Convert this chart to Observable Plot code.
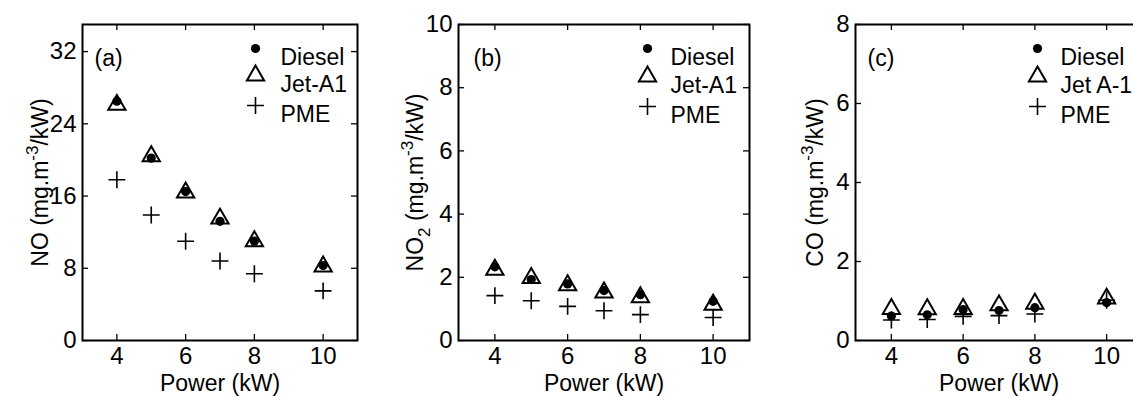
<!DOCTYPE html>
<html><head><meta charset="utf-8">
<script src="https://cdn.jsdelivr.net/npm/d3@7"></script>
<script src="https://cdn.jsdelivr.net/npm/@observablehq/plot@0.6"></script>
<style>
body{margin:0;background:#fff;}
#wrap{position:relative;width:1133px;height:396px;overflow:hidden;font-family:Arial,"Liberation Sans",sans-serif;}
#wrap > div{position:absolute;top:0;}
#wrap svg{max-width:none !important;display:block;}
</style></head><body><div id="wrap"></div>
<script>
// ---- data ----
const power = [4, 5, 6, 7, 8, 10];
const xTicks = [4, 6, 8, 10];

const noDiesel = [26.5, 20.2, 16.5, 13.2, 11.0, 8.3];
const noJet    = [26.1, 20.4, 16.4, 13.5, 11.0, 8.2];
const noPME    = [17.8, 13.9, 11.0, 8.8, 7.4, 5.5];

const no2Diesel = [2.33, 1.93, 1.79, 1.58, 1.45, 1.24];
const no2Jet    = [2.24, 1.98, 1.75, 1.52, 1.37, 1.13];
const no2PME    = [1.42, 1.26, 1.08, 0.94, 0.82, 0.73];

const coDiesel = [0.62, 0.65, 0.78, 0.76, 0.83, 0.96];
const coJet    = [0.80, 0.79, 0.80, 0.89, 0.93, 1.06];
const coPME    = [0.52, 0.53, 0.61, 0.63, 0.67, 1.02];

const noTicks = [0, 8, 16, 24, 32];
const no2Ticks = [0, 2, 4, 6, 8, 10];
const coTicks = [0, 2, 4, 6, 8];

const legendAB = ["Diesel", "Jet-A1", "PME"];
const legendC = ["Diesel", "Jet A-1", "PME"];
const xLabel = "Power (kW)";
// y label parts: [text, kind]
const yLabelNO  = [["NO (mg.m", ""], ["-3", "sup"], ["/kW)", ""]];
const yLabelNO2 = [["NO", ""], ["2", "sub"], [" (mg.m", ""], ["-3", "sup"], ["/kW)", ""]];
const yLabelCO  = [["CO (mg.m", ""], ["-3", "sup"], ["/kW)", ""]];

// ---- drawing ----
const FONT = "Arial, 'Liberation Sans', sans-serif";
const H = 396, MT = 24, MB = 56;
const FS_TICK = 24, FS = 23;

function panel(cfg) {
  const fw = cfg.width - cfg.ml - cfg.mr, fh = H - MT - MB;
  const rows = s => power.map((p, i) => ({power: p, value: s[i]}));
  const sym = [
    {symbol: "circle", r: 4.6, fill: "black", stroke: "none"},
    {symbol: "triangle", r: 6.4, fill: "none", stroke: "black", strokeWidth: 2},
    {symbol: "plus", r: 5.5, fill: "none", stroke: "black", strokeWidth: 1.6}
  ];
  const legMarks = [];
  cfg.legend.forEach((name, i) => {
    legMarks.push(Plot.dot([name], {frameAnchor: "top-left", dx: cfg.legX, dy: cfg.legY[i], ...sym[i]}));
    legMarks.push(Plot.text([name], {frameAnchor: "top-left", dx: cfg.legTX, dy: cfg.legY[i], textAnchor: "start", fontSize: FS}));
  });
  const yLabelText = cfg.ylabel.map(d => d[0]).join("");
  const plot = Plot.plot({
    width: cfg.width, height: H,
    marginTop: MT, marginBottom: MB, marginLeft: cfg.ml, marginRight: cfg.mr,
    style: {fontFamily: FONT, fontSize: FS + "px", color: "#000", background: "transparent", overflow: "visible", maxWidth: "none"},
    x: {domain: [3, 11]},
    y: {domain: cfg.yDomain},
    marks: [
      Plot.axisX({ticks: xTicks, tickSize: 0, tickPadding: 6, fontSize: FS_TICK, label: null}),
      Plot.axisY({ticks: cfg.yTicks, tickSize: 0, tickPadding: 6, fontSize: FS_TICK, label: null}),
      Plot.ruleY(cfg.yTicks, {insetRight: fw - 6, strokeWidth: 1.3}),
      Plot.ruleY(cfg.yTicks, {insetLeft: fw - 6, strokeWidth: 1.3}),
      Plot.ruleX(xTicks, {insetTop: fh - 6, strokeWidth: 1.3}),
      Plot.ruleX(xTicks, {insetBottom: fh - 6, strokeWidth: 1.3}),
      Plot.frame({stroke: "black", strokeWidth: 2}),
      Plot.dot(rows(cfg.diesel), {x: "power", y: "value", ...sym[0]}),
      Plot.dot(rows(cfg.jet), {x: "power", y: "value", ...sym[1]}),
      Plot.dot(rows(cfg.pme), {x: "power", y: "value", ...sym[2]}),
      ...legMarks,
      Plot.text([cfg.tag], {frameAnchor: "top-left", dx: cfg.tagX, dy: 25, textAnchor: "start", fontSize: FS}),
      Plot.text([xLabel], {frameAnchor: "bottom", dy: 34, lineAnchor: "top", fontSize: FS}),
      Plot.text([yLabelText], {frameAnchor: "left", dx: -cfg.ylx, dy: 0, rotate: -90, fontSize: FS})
    ]
  });
  const div = document.createElement("div");
  div.style.left = cfg.left + "px";
  div.style.width = cfg.width + "px";
  div.appendChild(plot);
  document.getElementById("wrap").appendChild(div);
  // rich y label (super/subscripts), centred manually
  d3.select(plot).selectAll("text").filter(function() { return this.textContent === yLabelText; }).each(function() {
    const t = d3.select(this);
    t.text(null);
    let shift = 0;
    cfg.ylabel.forEach(([s, kind]) => {
      const target = kind === "sup" ? -10 : kind === "sub" ? 7 : 0;
      const ts = t.append("tspan").text(s).attr("dy", target - shift);
      if (kind) ts.attr("font-size", 17);
      shift = target;
    });
    t.attr("text-anchor", "start").style("text-anchor", "start");
    const len = this.getComputedTextLength();
    t.attr("x", -len / 2);
  });
}

panel({left: 0, width: 380, ml: 82, mr: 23, yDomain: [0, 35], yTicks: noTicks,
  diesel: noDiesel, jet: noJet, pme: noPME, legend: legendAB,
  legX: 173, legTX: 198, legY: [24, 51, 81], tag: "(a)", tagX: 12, ylabel: yLabelNO, ylx: 42});
panel({left: 380, width: 380, ml: 78, mr: 11, yDomain: [0, 10], yTicks: no2Ticks,
  diesel: no2Diesel, jet: no2Jet, pme: no2PME, legend: legendAB,
  legX: 189, legTX: 212, legY: [24, 52, 82], tag: "(b)", tagX: 15, ylabel: yLabelNO2, ylx: 43});
panel({left: 760, width: 392, ml: 95, mr: 10, yDomain: [0, 8], yTicks: coTicks,
  diesel: coDiesel, jet: coJet, pme: coPME, legend: legendC,
  legX: 182, legTX: 205, legY: [24, 52, 82], tag: "(c)", tagX: 12, ylabel: yLabelCO, ylx: 40});
</script>
</body></html>
